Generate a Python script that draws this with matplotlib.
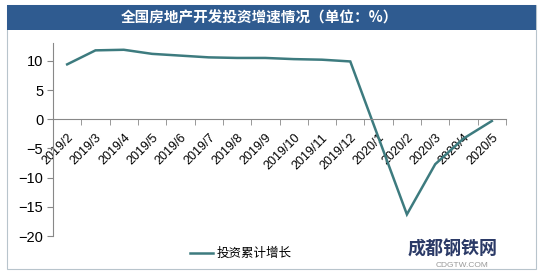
import matplotlib.pyplot as plt
import matplotlib.patches as mpatches
from matplotlib.lines import Line2D
import numpy as np

plt.rcParams['font.family'] = ['Liberation Sans', 'Noto Sans CJK SC', 'DejaVu Sans']

months = ["2019/2", "2019/3", "2019/4", "2019/5", "2019/6", "2019/7", "2019/8", "2019/9",
          "2019/10", "2019/11", "2019/12", "2020/1", "2020/2", "2020/3", "2020/4", "2020/5"]
# cumulative investment growth, 2020/1 has no value
growth = [9.4, 11.8, 11.9, 11.2, 10.9, 10.6, 10.5, 10.5, 10.3, 10.2, 9.9,
          None, -16.3, -7.7, -3.3, -0.3]

title = "全国房地产开发投资增速情况（单位：%）"
series_name = "投资累计增长"

line_color = '#3d7b7f'
bar_color = '#2f5b90'

fig = plt.figure(figsize=(5.44, 2.77), dpi=100)

# outer frame and title bar
fig.patches.append(mpatches.Rectangle((7/544, 1-269/277), 529/544, 264/277, transform=fig.transFigure,
                                      fill=False, edgecolor='#b8c4cc', linewidth=0.8))
fig.patches.append(mpatches.Rectangle((7/544, 1-30/277), 529/544, 25/277, transform=fig.transFigure,
                                      facecolor=bar_color, edgecolor='none'))
fig.text(259/544, 1-18/277, title, color='white', fontsize=10.5, fontweight='bold',
         ha='center', va='center', family=['Noto Sans CJK SC', 'DejaVu Sans'])

ax = fig.add_axes([53/544, 1-236/277, 453/544, 193/277])

x = np.arange(len(months))
xs = [i for i, v in zip(x, growth) if v is not None]
ys = [v for v in growth if v is not None]
ax.plot(xs, ys, color=line_color, linewidth=1.8, solid_joinstyle='miter')

ax.set_xlim(-0.5, len(months) - 0.5)
ax.set_ylim(-20, 13.06)
ax.set_yticks([10, 5, 0, -5, -10, -15, -20])

ax.spines['top'].set_visible(False)
ax.spines['right'].set_visible(False)
ax.spines['bottom'].set_position(('data', 0))
ax.spines['bottom'].set_color('#888888')
ax.spines['left'].set_color('#888888')

ax.set_xticks(x)
ax.set_xticklabels(months, rotation=45, ha='right', rotation_mode='anchor', fontsize=9)
ax.set_xticks(np.arange(-0.5, len(months), 1), minor=True)
ax.tick_params(axis='x', which='major', length=0, pad=9)
ax.tick_params(axis='x', which='minor', length=4, direction='out', color='#888888')
ax.tick_params(axis='y', length=4, direction='out', color='#888888', labelsize=10.5, pad=3)

# legend
fig.add_artist(Line2D([190/544, 213/544], [1-253/277, 1-253/277], color=line_color, linewidth=1.8,
                      transform=fig.transFigure))
fig.text(217/544, 1-253/277, series_name, fontsize=9, ha='left', va='center',
         family=['Noto Sans CJK SC', 'DejaVu Sans'])

# source logo
fig.text(453/544, 1-249/277, "成都钢铁网", fontsize=13, fontweight='bold', color='#2b3a67',
         ha='center', va='center', family=['Noto Sans CJK SC', 'DejaVu Sans'])
fig.text(462/544, 1-265.5/277, "CDGTW.COM", fontsize=6, color='#9a9a9a', ha='center', va='center')

fig.savefig('out.png', dpi=100)
